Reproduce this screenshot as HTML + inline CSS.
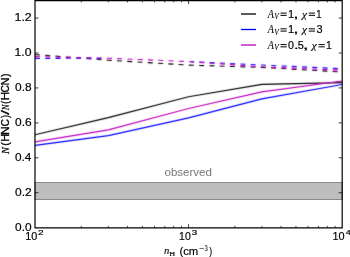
<!DOCTYPE html>
<html><head><meta charset="utf-8"><style>
html,body{margin:0;padding:0;background:#fff;}
body{width:350px;height:257px;overflow:hidden;position:relative;font-family:"Liberation Sans",sans-serif;}
svg{position:absolute;left:0;top:0;will-change:transform;}
</style></head><body>
<svg width="350" height="257" viewBox="0 0 350 257">
<defs><clipPath id="bclip"><rect x="0" y="0" width="104" height="257"/><rect x="191" y="0" width="160" height="257"/></clipPath><filter id="sb" filterUnits="userSpaceOnUse" x="0" y="0" width="350" height="257"><feConvolveMatrix order="3" kernelMatrix="0.0175 0.075 0.0175 0.075 0.63 0.075 0.0175 0.075 0.0175" preserveAlpha="false" edgeMode="none"/></filter></defs>
<rect x="35.0" y="182.5" width="307.2" height="17" fill="#bebebe" stroke="#8a8a8a" stroke-width="1"/>
<text transform="translate(164.52,175.60) scale(0.9939,1)" font-family="Liberation Sans" font-style="normal" font-size="11.6" fill="#7c7c7c" stroke="#7c7c7c" stroke-width="0.05" >observed</text>
<g filter="url(#sb)">
<polyline points="35.00,134.70 108.29,117.60 188.60,96.80 261.89,84.40 342.20,82.60" fill="none" stroke="#000000" stroke-width="1.1" />
<polyline points="35.00,145.40 108.29,135.60 188.60,117.90 261.89,98.90 342.20,84.50" fill="none" stroke="#0000ff" stroke-width="1.1" />
<polyline points="35.00,141.90 108.29,129.90 188.60,108.50 261.89,91.90 342.20,81.00" fill="none" stroke="#bf00bf" stroke-width="1.1" />
<polyline points="35.00,54.60 108.29,60.20 188.60,65.10 261.89,67.40 342.20,72.00" fill="none" stroke="#000000" stroke-width="1.1" stroke-dasharray="5 5.28"/>
<polyline clip-path="url(#bclip)" points="35.00,58.40 108.29,58.20 188.60,61.60 261.89,65.00 342.20,68.80" fill="none" stroke="#0000ff" stroke-width="1.1" stroke-dasharray="5 5.28"/>
<polyline points="35.00,56.60 108.29,58.20 188.60,61.60 261.89,66.80 342.20,70.30" fill="none" stroke="#bf00bf" stroke-width="1.1" stroke-dasharray="5 5.28"/>
</g>
<path d="M35.0,192.76h3.5M342.2,192.76h-3.5M35.0,157.82h3.5M342.2,157.82h-3.5M35.0,122.88h3.5M342.2,122.88h-3.5M35.0,87.95h3.5M342.2,87.95h-3.5M35.0,53.01h3.5M342.2,53.01h-3.5M35.0,18.07h3.5M342.2,18.07h-3.5M81.24,227.7v-1.8M81.24,0.6v1.8M108.29,227.7v-1.8M108.29,0.6v1.8M127.48,227.7v-1.8M127.48,0.6v1.8M142.36,227.7v-1.8M142.36,0.6v1.8M154.52,227.7v-1.8M154.52,0.6v1.8M164.81,227.7v-1.8M164.81,0.6v1.8M173.71,227.7v-1.8M173.71,0.6v1.8M181.57,227.7v-1.8M181.57,0.6v1.8M188.60,227.7v-3.5M188.60,0.6v3.5M234.84,227.7v-1.8M234.84,0.6v1.8M261.89,227.7v-1.8M261.89,0.6v1.8M281.08,227.7v-1.8M281.08,0.6v1.8M295.96,227.7v-1.8M295.96,0.6v1.8M308.12,227.7v-1.8M308.12,0.6v1.8M318.41,227.7v-1.8M318.41,0.6v1.8M327.31,227.7v-1.8M327.31,0.6v1.8M335.17,227.7v-1.8M335.17,0.6v1.8" stroke="#000" stroke-width="0.75" fill="none"/>
<path d="M35.0,0.55V227.8M342.2,0.55V227.8M34.4,0.55H342.8M34.4,227.8H342.8" fill="none" stroke="#000" stroke-width="1.2"/>
<line x1="241" y1="14.0" x2="256" y2="14.0" stroke="#000000" stroke-width="1.3"/>
<line x1="241" y1="29.5" x2="256" y2="29.5" stroke="#0000ff" stroke-width="1.3"/>
<line x1="241" y1="45.0" x2="256" y2="45.0" stroke="#bf00bf" stroke-width="1.3"/>
<text transform="translate(267.76,17.70) scale(0.8763,1)" font-family="Liberation Serif" font-style="italic" font-size="11.6" fill="#000" stroke="#000" stroke-width="0.1" >A</text>
<text transform="translate(274.21,18.80) scale(0.9847,1)" font-family="Liberation Serif" font-style="italic" font-size="7.6" fill="#000" stroke="#000" stroke-width="0.1" >V</text>
<path d="M280.5,13.10H286.7M280.5,15.35H286.7" stroke="#000" stroke-width="1.0" fill="none"/>
<text transform="translate(288.05,17.50) scale(1.0308,1)" font-family="Liberation Sans" font-style="normal" font-size="10.8" fill="#000" stroke="#000" stroke-width="0.18" >1</text>
<text transform="translate(293.26,17.50) scale(1.7925,1)" font-family="Liberation Sans" font-style="normal" font-size="10.8" fill="#000" stroke="#000" stroke-width="0.18" >,</text>
<text transform="translate(302.02,17.50) scale(1.1704,1)" font-family="Liberation Serif" font-style="italic" font-size="9.8" fill="#000" stroke="#000" stroke-width="0.1" >χ</text>
<path d="M308.8,13.10H315.0M308.8,15.35H315.0" stroke="#000" stroke-width="1.0" fill="none"/>
<text transform="translate(316.18,17.50) scale(0.8805,1)" font-family="Liberation Sans" font-style="normal" font-size="10.8" fill="#000" stroke="#000" stroke-width="0.18" >1</text>
<text transform="translate(267.76,33.45) scale(0.8763,1)" font-family="Liberation Serif" font-style="italic" font-size="11.6" fill="#000" stroke="#000" stroke-width="0.1" >A</text>
<text transform="translate(274.21,34.55) scale(0.9847,1)" font-family="Liberation Serif" font-style="italic" font-size="7.6" fill="#000" stroke="#000" stroke-width="0.1" >V</text>
<path d="M280.5,28.85H286.7M280.5,31.10H286.7" stroke="#000" stroke-width="1.0" fill="none"/>
<text transform="translate(288.05,33.25) scale(1.0308,1)" font-family="Liberation Sans" font-style="normal" font-size="10.8" fill="#000" stroke="#000" stroke-width="0.18" >1</text>
<text transform="translate(293.26,33.25) scale(1.7925,1)" font-family="Liberation Sans" font-style="normal" font-size="10.8" fill="#000" stroke="#000" stroke-width="0.18" >,</text>
<text transform="translate(302.02,33.25) scale(1.1704,1)" font-family="Liberation Serif" font-style="italic" font-size="9.8" fill="#000" stroke="#000" stroke-width="0.1" >χ</text>
<path d="M308.8,28.85H315.0M308.8,31.10H315.0" stroke="#000" stroke-width="1.0" fill="none"/>
<text transform="translate(316.48,33.25) scale(1.0155,1)" font-family="Liberation Sans" font-style="normal" font-size="10.8" fill="#000" stroke="#000" stroke-width="0.18" >3</text>
<text transform="translate(267.76,49.20) scale(0.8763,1)" font-family="Liberation Serif" font-style="italic" font-size="11.6" fill="#000" stroke="#000" stroke-width="0.1" >A</text>
<text transform="translate(274.21,50.30) scale(0.9847,1)" font-family="Liberation Serif" font-style="italic" font-size="7.6" fill="#000" stroke="#000" stroke-width="0.1" >V</text>
<path d="M280.5,44.60H286.7M280.5,46.85H286.7" stroke="#000" stroke-width="1.0" fill="none"/>
<text transform="translate(287.98,49.00) scale(0.9879,1)" font-family="Liberation Sans" font-style="normal" font-size="10.8" fill="#000" stroke="#000" stroke-width="0.18" >0</text>
<text transform="translate(293.67,49.00) scale(1.6532,1)" font-family="Liberation Sans" font-style="normal" font-size="10.8" fill="#000" stroke="#000" stroke-width="0.18" >.</text>
<text transform="translate(297.86,49.00) scale(1.0155,1)" font-family="Liberation Sans" font-style="normal" font-size="10.8" fill="#000" stroke="#000" stroke-width="0.18" >5</text>
<text transform="translate(302.30,49.00) scale(2.2642,1)" font-family="Liberation Sans" font-style="normal" font-size="10.8" fill="#000" stroke="#000" stroke-width="0.18" >,</text>
<text transform="translate(311.82,49.00) scale(1.1704,1)" font-family="Liberation Serif" font-style="italic" font-size="9.8" fill="#000" stroke="#000" stroke-width="0.1" >χ</text>
<path d="M318.6,44.60H324.8M318.6,46.85H324.8" stroke="#000" stroke-width="1.0" fill="none"/>
<text transform="translate(326.10,49.00) scale(0.9664,1)" font-family="Liberation Sans" font-style="normal" font-size="10.8" fill="#000" stroke="#000" stroke-width="0.18" >1</text>
<text transform="translate(15.04,230.72) scale(1.1009,1)" font-family="Liberation Sans" font-style="normal" font-size="10.8" fill="#000" stroke="#000" stroke-width="0.18" >0.0</text>
<text transform="translate(15.03,195.78) scale(1.1104,1)" font-family="Liberation Sans" font-style="normal" font-size="10.8" fill="#000" stroke="#000" stroke-width="0.18" >0.2</text>
<text transform="translate(15.04,160.84) scale(1.0928,1)" font-family="Liberation Sans" font-style="normal" font-size="10.8" fill="#000" stroke="#000" stroke-width="0.18" >0.4</text>
<text transform="translate(15.03,125.90) scale(1.1051,1)" font-family="Liberation Sans" font-style="normal" font-size="10.8" fill="#000" stroke="#000" stroke-width="0.18" >0.6</text>
<text transform="translate(15.03,90.96) scale(1.1046,1)" font-family="Liberation Sans" font-style="normal" font-size="10.8" fill="#000" stroke="#000" stroke-width="0.18" >0.8</text>
<text transform="translate(14.57,56.03) scale(1.1330,1)" font-family="Liberation Sans" font-style="normal" font-size="10.8" fill="#000" stroke="#000" stroke-width="0.18" >1.0</text>
<text transform="translate(14.56,21.14) scale(1.1431,1)" font-family="Liberation Sans" font-style="normal" font-size="10.8" fill="#000" stroke="#000" stroke-width="0.18" >1.2</text>
<text transform="translate(25.17,240.30) scale(1.0029,1)" font-family="Liberation Sans" font-style="normal" font-size="10.8" fill="#000" stroke="#000" stroke-width="0.18" >10</text>
<text transform="translate(37.89,234.80) scale(1.3286,1)" font-family="Liberation Sans" font-style="normal" font-size="7.6" fill="#000" stroke="#000" stroke-width="0.18" >2</text>
<text transform="translate(179.10,240.30) scale(0.9751,1)" font-family="Liberation Sans" font-style="normal" font-size="10.8" fill="#000" stroke="#000" stroke-width="0.18" >10</text>
<text transform="translate(191.83,234.80) scale(1.2766,1)" font-family="Liberation Sans" font-style="normal" font-size="7.6" fill="#000" stroke="#000" stroke-width="0.18" >3</text>
<text transform="translate(332.47,240.30) scale(1.0122,1)" font-family="Liberation Sans" font-style="normal" font-size="10.8" fill="#000" stroke="#000" stroke-width="0.18" >10</text>
<text transform="translate(345.79,234.80) scale(1.2011,1)" font-family="Liberation Sans" font-style="normal" font-size="7.6" fill="#000" stroke="#000" stroke-width="0.18" >4</text>
<text transform="translate(163.92,254.40) scale(1.1085,1)" font-family="Liberation Serif" font-style="italic" font-size="9.6" fill="#000" stroke="#000" stroke-width="0.1" >n</text>
<text transform="translate(169.37,256.30) scale(1.2321,1)" font-family="Liberation Serif" font-style="normal" font-size="6.6" fill="#000" stroke="#000" stroke-width="0.12" >H</text>
<text transform="translate(179.40,254.60) scale(1.0475,1)" font-family="Liberation Sans" font-style="normal" font-size="10.8" fill="#000" stroke="#000" stroke-width="0.18" >(cm</text>
<text transform="translate(198.92,251.20) scale(1.2724,1)" font-family="Liberation Serif" font-style="normal" font-size="7.6" fill="#000" stroke="#000" stroke-width="0.1" >−</text>
<text transform="translate(204.59,251.10) scale(0.8600,1)" font-family="Liberation Serif" font-style="normal" font-size="7.6" fill="#000" stroke="#000" stroke-width="0.1" >3</text>
<text transform="translate(209.35,254.60) scale(0.8032,1)" font-family="Liberation Sans" font-style="normal" font-size="10.8" fill="#000" stroke="#000" stroke-width="0.18" >)</text>
<g transform="translate(9.0,0) rotate(-90)"><text transform="translate(-153.92,0.00) scale(0.9129,1)" font-family="Liberation Serif" font-style="italic" font-size="11.4" fill="#000" stroke="#000" stroke-width="0.2" >N</text><text transform="translate(-145.75,0.00) scale(0.9778,1)" font-family="Liberation Sans" font-style="normal" font-size="10.8" fill="#000" stroke="#000" stroke-width="0.3" >(</text><text transform="translate(-141.80,0.00) scale(1.0111,1)" font-family="Liberation Sans" font-style="normal" font-size="10.8" fill="#000" stroke="#000" stroke-width="0.3" >H</text><text transform="translate(-134.98,0.00) scale(1.1106,1)" font-family="Liberation Sans" font-style="normal" font-size="10.8" fill="#000" stroke="#000" stroke-width="0.3" >N</text><text transform="translate(-126.42,0.00) scale(0.9503,1)" font-family="Liberation Sans" font-style="normal" font-size="10.8" fill="#000" stroke="#000" stroke-width="0.3" >C</text><text transform="translate(-118.05,0.00) scale(0.8381,1)" font-family="Liberation Sans" font-style="normal" font-size="10.8" fill="#000" stroke="#000" stroke-width="0.3" >)</text><text transform="translate(-114.70,0.00) scale(1.5664,1)" font-family="Liberation Sans" font-style="normal" font-size="10.8" fill="#000" stroke="#000" stroke-width="0.3" >/</text><text transform="translate(-110.14,0.00) scale(0.7546,1)" font-family="Liberation Serif" font-style="italic" font-size="11.4" fill="#000" stroke="#000" stroke-width="0.2" >N</text><text transform="translate(-103.64,0.00) scale(0.8032,1)" font-family="Liberation Sans" font-style="normal" font-size="10.8" fill="#000" stroke="#000" stroke-width="0.3" >(</text><text transform="translate(-100.37,0.00) scale(1.0940,1)" font-family="Liberation Sans" font-style="normal" font-size="10.8" fill="#000" stroke="#000" stroke-width="0.3" >H</text><text transform="translate(-92.52,0.00) scale(0.9503,1)" font-family="Liberation Sans" font-style="normal" font-size="10.8" fill="#000" stroke="#000" stroke-width="0.3" >C</text><text transform="translate(-85.40,0.00) scale(1.0111,1)" font-family="Liberation Sans" font-style="normal" font-size="10.8" fill="#000" stroke="#000" stroke-width="0.3" >N</text><text transform="translate(-77.06,0.00) scale(0.9778,1)" font-family="Liberation Sans" font-style="normal" font-size="10.8" fill="#000" stroke="#000" stroke-width="0.3" >)</text></g>
</svg>
</body></html>
